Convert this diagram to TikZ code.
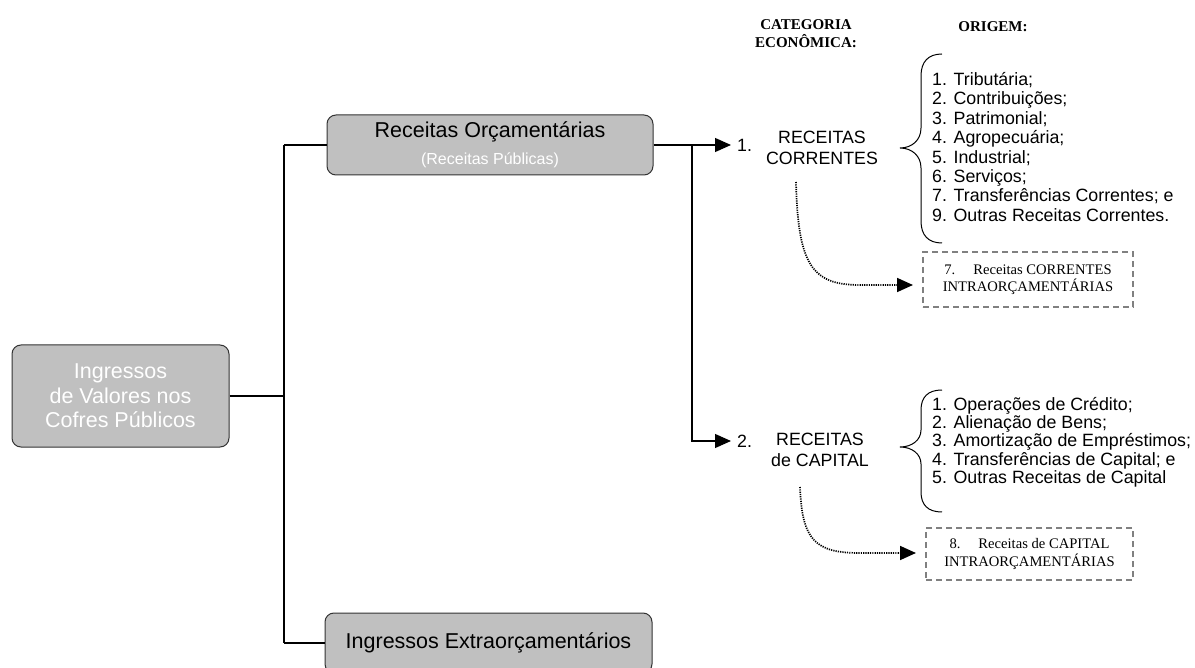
\documentclass[tikz,border=0pt]{standalone}
\usepackage{fontspec}
\setmainfont{Liberation Sans}
\newfontfamily\serifft{Liberation Serif}
\usetikzlibrary{arrows.meta}
\definecolor{boxgray}{HTML}{C0C0C0}
\definecolor{dashgray}{HTML}{808080}
\tikzset{
 graybox/.style={draw=black!80, fill=boxgray, rounded corners=9pt, line width=1pt, inner sep=0pt, align=center},
 trunk/.style={line width=2pt},
 branch/.style={line width=1.2pt},
 tipped/.style={-{Triangle[length=16pt,width=14pt]}, shorten >=6pt},
 dotarrow/.style={line width=1.7pt, dash pattern=on 1.2pt off 1.1pt, -{Triangle[length=16pt,width=14pt]}},
 dashbox/.style={draw=dashgray, dash pattern=on 6pt off 4pt, line width=1.6pt, minimum width=210pt, minimum height=55pt, inner sep=0pt, align=center, font=\serifft\fontsize{14.6}{17.5}\selectfont},
 lbl/.style={inner sep=0pt, align=center, font=\fontsize{17.8}{20.5}\selectfont},
 hdr/.style={inner sep=0pt, align=center, font=\serifft\bfseries\fontsize{15}{18}\selectfont},
 bracestyle/.style={line width=1pt},
}
\begin{document}
\begin{tikzpicture}[x=1pt,y=-1pt]
\useasboundingbox (0,0) rectangle (1195,668);
% main boxes
\node[graybox, minimum width=217pt, minimum height=102pt, text=white, font=\fontsize{21.5}{24.5}\selectfont] (ing) at (120.5,396) {Ingressos\\de Valores nos\\Cofres Públicos};
\node[graybox, minimum width=326pt, minimum height=60pt, font=\fontsize{21.5}{27}\selectfont] (ro) at (490,145) {Receitas Orçamentárias\\{\fontsize{16}{27}\selectfont\color{white}(Receitas Públicas)}};
\node[graybox, minimum width=327pt, minimum height=60pt, font=\fontsize{21.5}{25}\selectfont] (ext) at (488.5,643) {Ingressos Extraorçamentários};
% trunk
\coordinate (j) at (284,396);
\coordinate (jt) at (284,145);
\coordinate (jb) at (284,643);
\draw[trunk] (ing.east) -- (j);
\draw[trunk] (jt) -- (jb);
\draw[trunk] (jt) -- (ro.west);
\draw[trunk] (jb) -- (ext.west);
% categories
\node[lbl, anchor=west] (n1) at (737,145) {1.};
\node[lbl] (c1) at (822,148) {RECEITAS\\CORRENTES};
\node[lbl, anchor=west] (n2) at (737,441) {2.};
\node[lbl] (c2) at (820,450) {RECEITAS\\de CAPITAL};
\coordinate (br) at (692,145);
\draw[branch, tipped] (ro.east) -- (n1.west);
\draw[branch, tipped] (br) |- (n2.west);
% headers
\node[hdr] (hcat) at (806,34) {CATEGORIA\\ECONÔMICA:};
\node[hdr] (horig) at (993,27) {ORIGEM:};
% lists
\node[lbl, align=left, anchor=west, font=\fontsize{17.8}{19.4}\selectfont] (l1) at (932,147) {1. Tributária;\\2. Contribuições;\\3. Patrimonial;\\4. Agropecuária;\\5. Industrial;\\6. Serviços;\\7. Transferências Correntes; e\\9. Outras Receitas Correntes.};
\node[lbl, align=left, anchor=west, font=\fontsize{17.8}{18.3}\selectfont] (l2) at (932,442) {1. Operações de Crédito;\\2. Alienação de Bens;\\3. Amortização de Empréstimos;\\4. Transferências de Capital; e\\5. Outras Receitas de Capital};
% braces
\draw[bracestyle] (942,54) .. controls (928,54) and (921,62) .. (921,76) -- (921,128) .. controls (921,140) and (912,148) .. (900,148) .. controls (912,148) and (921,156) .. (921,168) -- (921,221) .. controls (921,235) and (928,243) .. (942,243);
\draw[bracestyle] (942,390) .. controls (928,390) and (921,397) .. (921,410) -- (921,430) .. controls (921,440) and (912,447) .. (900,447) .. controls (912,447) and (921,454) .. (921,464) -- (921,492) .. controls (921,505) and (928,512) .. (942,512);
% intra boxes
\node[dashbox] (d1) at (1028,279.5) {7.\hspace{18pt}Receitas CORRENTES\\INTRAORÇAMENTÁRIAS};
\node[dashbox, minimum width=207pt, minimum height=52pt] (d2) at (1029.5,554) {8.\hspace{18pt}Receitas de CAPITAL\\INTRAORÇAMENTÁRIAS};
\coordinate (s1) at (796,182);
\coordinate (e1) at (913,285);
\coordinate (s2) at (800,487);
\coordinate (e2) at (916,553);
\draw[dotarrow] (s1) .. controls (798,265) and (812,285) .. (860,285) -- (e1);
\draw[dotarrow] (s2) .. controls (802,540) and (815,553) .. (860,553) -- (e2);
\end{tikzpicture}
\end{document}
